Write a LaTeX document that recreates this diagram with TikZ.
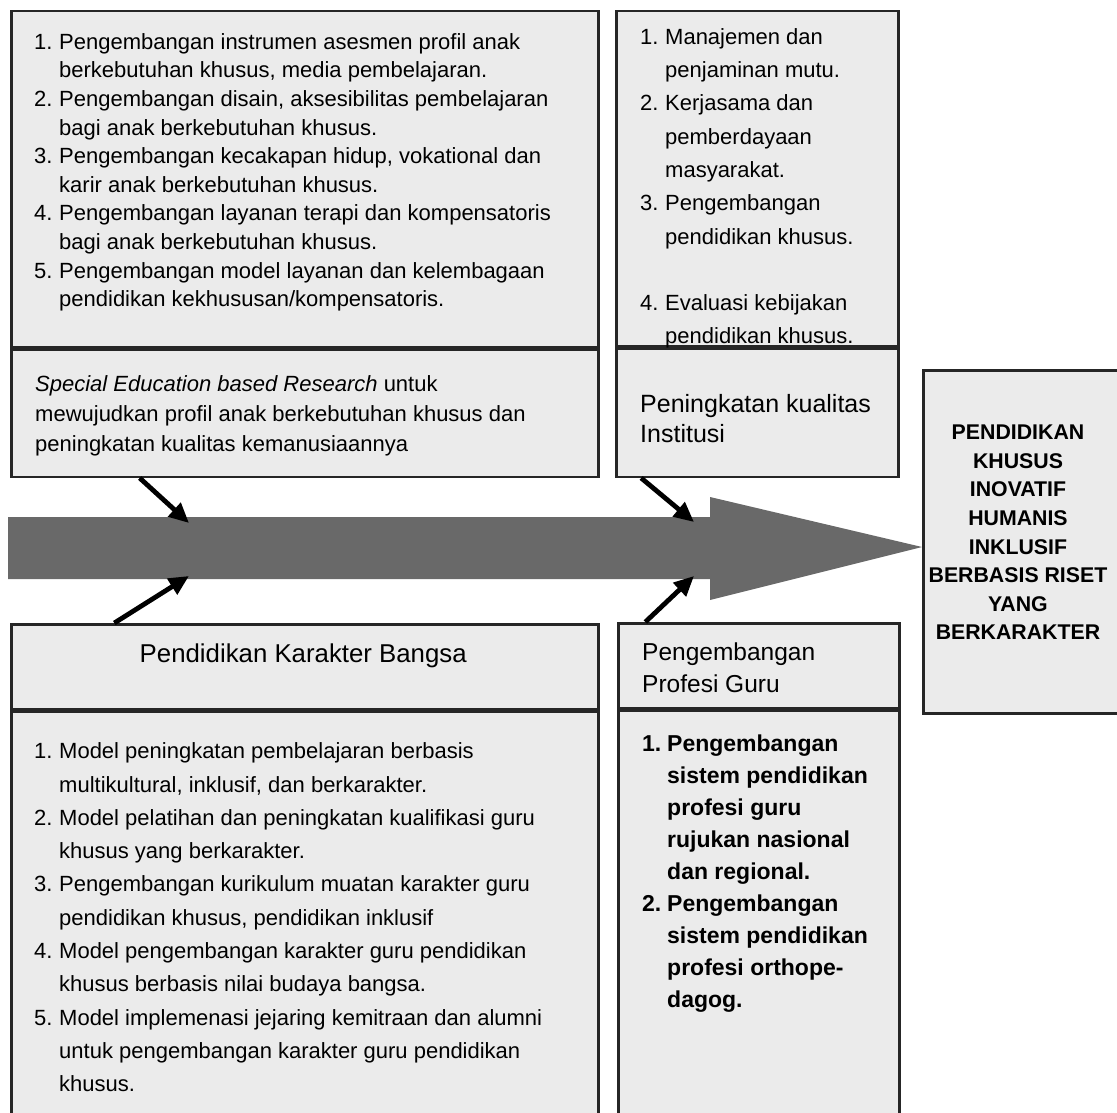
\documentclass[tikz,border=0pt]{standalone}
\usepackage{fontspec}
\setmainfont{Liberation Sans}
\usetikzlibrary{arrows.meta,calc}

\begin{document}
\begin{tikzpicture}[x=1pt,y=-1pt,
	box/.style={draw=black!85,line width=2.5pt,fill=black!8,inner sep=0pt,anchor=north west},
	txt/.style={inner sep=0pt,anchor=north west},
	feed/.style={line width=4.8pt,-{Triangle[length=20pt,width=18pt]}}]
	\useasboundingbox (0,0) rectangle (1117,1113);

	% boxes
	\node[box,minimum width=587pt,minimum height=336pt] (sebrList) at (10,10) {};
	\node[box,minimum width=587pt,minimum height=127pt] (sebrNote) at (sebrList.south west) {};
	\node[box,minimum width=282pt,minimum height=335pt] (instList) at (615,10) {};
	\node[box,minimum width=282pt,minimum height=128pt] (instHead) at (instList.south west) {};
	\node[box,minimum width=203pt,minimum height=343pt] (goalBox) at (922,369) {};
	\node[box,minimum width=587pt,minimum height=85pt] (charHead) at (10,623) {};
	\node[box,minimum width=587pt,minimum height=417pt] (charList) at (charHead.south west) {};
	\node[box,minimum width=281pt,minimum height=85pt] (guruHead) at (617,622) {};
	\node[box,minimum width=281pt,minimum height=418pt] (guruList) at (guruHead.south west) {};

	% texts
	\node[txt,font=\fontsize{22}{28.6}\selectfont] (sebrItems) at ([shift={(24,19)}]sebrList.north west) {%
		\begin{tabular}{@{}p{25pt}@{}l@{}}
		1. & Pengembangan instrumen asesmen profil anak\\
		   & berkebutuhan khusus, media pembelajaran.\\
		2. & Pengembangan disain, aksesibilitas pembelajaran\\
		   & bagi anak berkebutuhan khusus.\\
		3. & Pengembangan kecakapan hidup, vokational dan\\
		   & karir anak berkebutuhan khusus.\\
		4. & Pengembangan layanan terapi dan kompensatoris\\
		   & bagi anak berkebutuhan khusus.\\
		5. & Pengembangan model layanan dan kelembagaan\\
		   & pendidikan kekhususan/kompensatoris.
		\end{tabular}};
	\node[txt,font=\fontsize{22}{30}\selectfont] (sebrText) at ([shift={(25,22)}]sebrNote.north west) {%
		\begin{tabular}{@{}l@{}}
		\textit{Special Education based Research} untuk\\
		mewujudkan profil anak berkebutuhan khusus dan\\
		peningkatan kualitas kemanusiaannya
		\end{tabular}};
	\node[txt,font=\fontsize{22}{33.3}\selectfont] (instItems) at ([shift={(25,10.7)}]instList.north west) {%
		\begin{tabular}{@{}p{25pt}@{}l@{}}
		1. & Manajemen dan\\
		   & penjaminan mutu.\\
		2. & Kerjasama dan\\
		   & pemberdayaan\\
		   & masyarakat.\\
		3. & Pengembangan\\
		   & pendidikan khusus.\\
		   & \\
		4. & Evaluasi kebijakan\\
		   & pendidikan khusus.
		\end{tabular}};
	\node[txt,font=\fontsize{25}{30}\selectfont] (instText) at ([shift={(25,44)}]instHead.north west) {%
		\begin{tabular}{@{}l@{}}
		Peningkatan kualitas\\
		Institusi
		\end{tabular}};
	\node[inner sep=0pt,anchor=north,font=\fontsize{21.3}{28.6}\selectfont\bfseries] (goalText) at ([shift={(96,50.5)}]goalBox.north west) {%
		\begin{tabular}{@{}c@{}}
		PENDIDIKAN\\ KHUSUS\\ INOVATIF\\ HUMANIS\\ INKLUSIF\\ BERBASIS RISET\\ YANG\\ BERKARAKTER
		\end{tabular}};
	\node[inner sep=0pt,anchor=base,font=\fontsize{25.8}{30}\selectfont] (charTitle) at ([shift={(-1.5,-4)}]charHead.center) {Pendidikan Karakter Bangsa};
	\node[txt,font=\fontsize{22}{33.3}\selectfont] (charItems) at ([shift={(24,24.7)}]charList.north west) {%
		\begin{tabular}{@{}p{25pt}@{}l@{}}
		1. & Model peningkatan pembelajaran berbasis\\
		   & multikultural, inklusif, dan berkarakter.\\
		2. & Model pelatihan dan peningkatan kualifikasi guru\\
		   & khusus yang berkarakter.\\
		3. & Pengembangan kurikulum muatan karakter guru\\
		   & pendidikan khusus, pendidikan inklusif\\
		4. & Model pengembangan karakter guru pendidikan\\
		   & khusus berbasis nilai budaya bangsa.\\
		5. & Model implemenasi jejaring kemitraan dan alumni\\
		   & untuk pengembangan karakter guru pendidikan\\
		   & khusus.
		\end{tabular}};
	\node[txt,font=\fontsize{24.5}{32}\selectfont] (guruTitle) at ([shift={(25,15.6)}]guruHead.north west) {%
		\begin{tabular}{@{}l@{}}
		Pengembangan\\
		Profesi Guru
		\end{tabular}};
	\node[txt,font=\fontsize{23}{32}\selectfont\bfseries] (guruItems) at ([shift={(25,19.6)}]guruList.north west) {%
		\begin{tabular}{@{}p{25pt}@{}l@{}}
		1. & Pengembangan\\
		   & sistem pendidikan\\
		   & profesi guru\\
		   & rujukan nasional\\
		   & dan regional.\\
		2. & Pengembangan\\
		   & sistem pendidikan\\
		   & profesi orthope-\\
		   & dagog.
		\end{tabular}};

	% main arrow
	\fill[black!59] (8,517) -- (710,517) -- (710,497) -- (922,547) -- (710,600) -- (710,579) -- (8,579) -- cycle;
	\coordinate (hitA) at (189,523);
	\coordinate (hitB) at (694,522);
	\coordinate (hitC) at (189,576);
	\coordinate (hitD) at (694,576);

	\draw[feed] ($(sebrNote.south west)!0.22!(sebrNote.south east)$) -- (hitA);
	\draw[feed] ($(instHead.south west)!0.092!(instHead.south east)$) -- (hitB);
	\draw[feed] ($(charHead.north west)!0.177!(charHead.north east)$) -- (hitC);
	\draw[feed] ($(guruHead.north west)!0.1!(guruHead.north east)$) -- (hitD);
\end{tikzpicture}
\end{document}
